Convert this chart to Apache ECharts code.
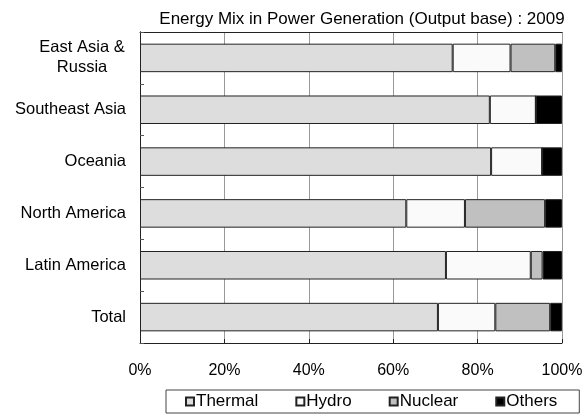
<!DOCTYPE html>
<html>
<head>
<meta charset="utf-8">
<script src="https://cdn.jsdelivr.net/npm/echarts@6/dist/echarts.min.js"></script>
<style>html,body{margin:0;padding:0;background:#fff;}#c{width:588px;height:416px;}</style>
</head>
<body>
<div id="c"></div>
<script>
const categories = ['East Asia &\nRussia', 'Southeast Asia', 'Oceania', 'North America', 'Latin America', 'Total'];
const thermal = [74.1, 82.9, 83.2, 63.1, 72.5, 70.6];
const hydro   = [13.7, 10.9, 12.1, 13.9, 20.1, 13.6];
const nuclear = [10.6, 0, 0, 19.0, 2.8, 13.0];
const others  = [1.6, 6.2, 4.7, 4.0, 4.6, 2.8];
const xTicks = [0, 20, 40, 60, 80, 100];

const FONT = 'Liberation Sans, Arial, sans-serif';
const chart = echarts.init(document.getElementById('c'));
function mk(name, data, color) {
  return {
    name: name, type: 'bar', stack: 'all', data: data, barWidth: '55%',
    itemStyle: { color: color, borderColor: '#222', borderWidth: 1 },
    emphasis: { disabled: true }, animation: false
  };
}
chart.setOption({
  animation: false,
  title: {
    text: 'Energy Mix in Power Generation (Output base) : 2009',
    left: 357, textAlign: 'center', top: 6,
    textStyle: { fontFamily: FONT, fontSize: 17, fontWeight: 'normal', color: '#000' }
  },
  grid: { left: 140, right: 26, top: 32, bottom: 73, show: false },
  xAxis: [{
    type: 'value', min: xTicks[0], max: xTicks[xTicks.length - 1], interval: 20,
    axisLine: { show: true, lineStyle: { color: '#222' } },
    axisTick: { show: true, inside: true, length: 4, lineStyle: { color: '#222' } },
    splitLine: { show: true, lineStyle: { color: '#999999', width: 1, type: 'solid' } },
    axisLabel: { formatter: '{value}%', margin: 20, color: '#000', fontFamily: FONT, fontSize: 16 }
  }, {
    type: 'value', position: 'top', min: xTicks[0], max: xTicks[xTicks.length - 1], interval: 20,
    axisLine: { show: true, lineStyle: { color: '#222' } },
    axisTick: { show: false }, splitLine: { show: false }, axisLabel: { show: false }
  }],
  yAxis: [{
    type: 'category', inverse: true, data: categories,
    axisLine: { show: true, lineStyle: { color: '#222' } },
    axisTick: { show: true, inside: true, length: 4, lineStyle: { color: '#555' } },
    splitLine: { show: false },
    axisLabel: {
      margin: 14, color: '#000', fontFamily: FONT, fontSize: 16.5, lineHeight: 20,
      formatter: function (v) {
        if (v.indexOf('\n') >= 0) return v.split('\n').map(s => '{c|' + s + '}').join('\n');
        return v;
      },
      rich: { c: { width: 88, align: 'center', fontFamily: FONT, fontSize: 16.5, color: '#000', lineHeight: 20 } }
    }
  }, {
    type: 'category', position: 'right', inverse: true, data: categories,
    axisLine: { show: true, lineStyle: { color: '#222' } },
    axisTick: { show: false }, splitLine: { show: false }, axisLabel: { show: false }
  }],
  legend: {
    left: 166, top: 390,
    data: ['Thermal', 'Hydro', 'Nuclear', { name: 'Others', textStyle: { padding: [0, 9, 0, -3] } }],
    icon: 'rect', itemWidth: 8, itemHeight: 8, itemGap: 37,
    padding: [3, 22, 3, 19],
    borderColor: '#444', borderWidth: 1,
    textStyle: { fontFamily: FONT, fontSize: 17, color: '#000', padding: [0, 0, 0, -3] },
    selectedMode: false
  },
  series: [
    mk('Thermal', thermal, '#dddddd'),
    mk('Hydro', hydro, '#fafafa'),
    mk('Nuclear', nuclear, '#c0c0c0'),
    mk('Others', others, '#000000')
  ]
});
</script>
</body>
</html>
